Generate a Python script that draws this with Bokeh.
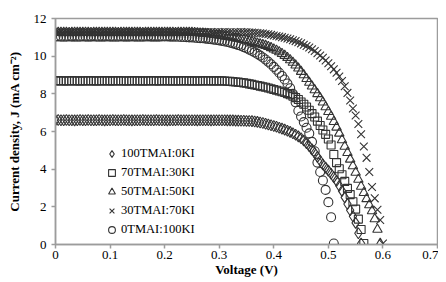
from bokeh.plotting import figure
from bokeh.models import Range1d, FixedTicker, Legend, LegendItem
from bokeh.embed import file_html
from bokeh.resources import INLINE

# Voltage sweep (V)
voltage = [
    0.000, 0.005, 0.010, 0.015, 0.020, 0.025, 0.030, 0.035, 0.040, 0.045,
    0.050, 0.055, 0.060, 0.065, 0.070, 0.075, 0.080, 0.085, 0.090, 0.095,
    0.100, 0.105, 0.110, 0.115, 0.120, 0.125, 0.130, 0.135, 0.140, 0.145,
    0.150, 0.155, 0.160, 0.165, 0.170, 0.175, 0.180, 0.185, 0.190, 0.195,
    0.200, 0.205, 0.210, 0.215, 0.220, 0.225, 0.230, 0.235, 0.240, 0.245,
    0.250, 0.255, 0.260, 0.265, 0.270, 0.275, 0.280, 0.285, 0.290, 0.295,
    0.300, 0.305, 0.310, 0.315, 0.320, 0.325, 0.330, 0.335, 0.340, 0.345,
    0.350, 0.355, 0.360, 0.365, 0.370, 0.375, 0.380, 0.385, 0.390, 0.395,
    0.400, 0.405, 0.410, 0.415, 0.420, 0.425, 0.430, 0.435, 0.440, 0.445,
    0.450, 0.455, 0.460, 0.465, 0.470, 0.475, 0.480, 0.485, 0.490, 0.495,
    0.500, 0.505, 0.510, 0.515, 0.520, 0.525, 0.530, 0.535, 0.540, 0.545,
    0.550, 0.555, 0.560, 0.565, 0.570, 0.575, 0.580, 0.585, 0.590, 0.595,
    0.600,
]

# Current density (mA cm-2) for each composition
j_100tmai_0ki = [
    6.60, 6.61, 6.60, 6.60, 6.61, 6.60, 6.60, 6.59, 6.60, 6.61,
    6.60, 6.60, 6.61, 6.60, 6.60, 6.60, 6.61, 6.60, 6.59, 6.60,
    6.60, 6.61, 6.60, 6.60, 6.60, 6.61, 6.60, 6.60, 6.59, 6.60,
    6.60, 6.60, 6.61, 6.60, 6.60, 6.60, 6.60, 6.61, 6.60, 6.60,
    6.60, 6.59, 6.60, 6.60, 6.60, 6.61, 6.60, 6.60, 6.60, 6.60,
    6.60, 6.60, 6.59, 6.60, 6.60, 6.60, 6.60, 6.59, 6.60, 6.60,
    6.60, 6.60, 6.60, 6.59, 6.59, 6.59, 6.58, 6.58, 6.57, 6.57,
    6.56, 6.56, 6.55, 6.53, 6.51, 6.48, 6.45, 6.41, 6.37, 6.33,
    6.29, 6.25, 6.20, 6.15, 6.10, 6.04, 5.98, 5.91, 5.83, 5.74,
    5.64, 5.52, 5.38, 5.22, 5.05, 4.86, 4.65, 4.45, 4.25, 4.08,
    3.92, 3.76, 3.58, 3.38, 3.12, 2.85, 2.50, 2.15, 1.82, 1.50,
    1.15, 0.60, 0.05,
]

j_70tmai_30ki = [
    8.69, 8.70, 8.69, 8.68, 8.69, 8.69, 8.70, 8.69, 8.69, 8.68,
    8.69, 8.69, 8.70, 8.69, 8.69, 8.69, 8.68, 8.69, 8.70, 8.69,
    8.69, 8.69, 8.69, 8.70, 8.69, 8.68, 8.69, 8.69, 8.69, 8.70,
    8.69, 8.69, 8.68, 8.69, 8.69, 8.70, 8.69, 8.69, 8.69, 8.69,
    8.70, 8.69, 8.69, 8.68, 8.69, 8.69, 8.69, 8.70, 8.69, 8.69,
    8.69, 8.69, 8.68, 8.69, 8.69, 8.70, 8.69, 8.69, 8.69, 8.69,
    8.69, 8.69, 8.68, 8.67, 8.66, 8.65, 8.63, 8.62, 8.60, 8.58,
    8.56, 8.53, 8.50, 8.47, 8.44, 8.41, 8.38, 8.35, 8.31, 8.27,
    8.23, 8.19, 8.15, 8.11, 8.07, 8.01, 7.95, 7.88, 7.80, 7.70,
    7.57, 7.45, 7.30, 7.13, 6.95, 6.77, 6.55, 6.32, 6.08, 5.85,
    5.60, 5.28, 4.78, 4.35, 4.02, 3.70, 3.35, 2.98, 2.65, 2.27,
    1.88, 1.35, 0.80, 0.05,
]

j_50tmai_50ki = [
    11.24, 11.25, 11.26, 11.25, 11.25, 11.24, 11.25, 11.26, 11.25, 11.25,
    11.25, 11.26, 11.25, 11.24, 11.25, 11.25, 11.26, 11.25, 11.25, 11.25,
    11.26, 11.25, 11.25, 11.24, 11.25, 11.26, 11.25, 11.25, 11.25, 11.26,
    11.25, 11.25, 11.24, 11.25, 11.25, 11.26, 11.25, 11.25, 11.25, 11.25,
    11.26, 11.25, 11.25, 11.25, 11.24, 11.25, 11.25, 11.26, 11.25, 11.25,
    11.25, 11.24, 11.23, 11.22, 11.21, 11.20, 11.18, 11.16, 11.14, 11.12,
    11.10, 11.08, 11.05, 11.03, 11.01, 10.99, 10.96, 10.93, 10.90, 10.87,
    10.84, 10.80, 10.76, 10.72, 10.68, 10.64, 10.60, 10.56, 10.50, 10.44,
    10.37, 10.30, 10.22, 10.13, 10.03, 9.92, 9.80, 9.66, 9.52, 9.36,
    9.18, 9.00, 8.80, 8.60, 8.40, 8.20, 8.00, 7.78, 7.55, 7.30,
    7.05, 6.80, 6.52, 6.22, 5.90, 5.55, 5.20, 4.87, 4.52, 4.17,
    3.82, 3.45, 3.08, 2.75, 2.42, 2.10, 1.78, 1.35, 0.80, 0.05,
]

j_30tmai_70ki = [
    11.26, 11.27, 11.28, 11.27, 11.27, 11.26, 11.27, 11.28, 11.27, 11.27,
    11.27, 11.28, 11.27, 11.26, 11.27, 11.27, 11.28, 11.27, 11.27, 11.27,
    11.28, 11.27, 11.27, 11.26, 11.27, 11.28, 11.27, 11.27, 11.27, 11.28,
    11.27, 11.27, 11.26, 11.27, 11.27, 11.28, 11.27, 11.27, 11.27, 11.27,
    11.28, 11.27, 11.27, 11.27, 11.26, 11.27, 11.27, 11.28, 11.27, 11.27,
    11.27, 11.28, 11.27, 11.27, 11.26, 11.27, 11.27, 11.28, 11.27, 11.27,
    11.27, 11.27, 11.28, 11.27, 11.27, 11.26, 11.27, 11.27, 11.28, 11.27,
    11.27, 11.26, 11.25, 11.24, 11.23, 11.22, 11.20, 11.18, 11.16, 11.13,
    11.10, 11.07, 11.04, 11.01, 10.98, 10.94, 10.90, 10.85, 10.80, 10.74,
    10.68, 10.61, 10.54, 10.46, 10.37, 10.27, 10.16, 10.04, 9.91, 9.77,
    9.62, 9.46, 9.30, 9.12, 8.92, 8.68, 8.40, 8.05, 7.65, 7.22,
    6.85, 6.40, 5.85, 5.20, 4.60, 3.85, 3.05, 2.45, 1.85, 1.30,
    0.05,
]

j_0tmai_100ki = [
    11.04, 11.05, 11.04, 11.03, 11.04, 11.05, 11.04, 11.04, 11.03, 11.04,
    11.05, 11.04, 11.04, 11.04, 11.05, 11.04, 11.03, 11.04, 11.04, 11.05,
    11.04, 11.04, 11.03, 11.04, 11.05, 11.04, 11.04, 11.04, 11.05, 11.04,
    11.04, 11.03, 11.04, 11.04, 11.05, 11.04, 11.04, 11.04, 11.04, 11.05,
    11.05, 11.05, 11.04, 11.04, 11.03, 11.03, 11.02, 11.02, 11.01, 11.00,
    10.99, 10.98, 10.97, 10.96, 10.95, 10.93, 10.92, 10.90, 10.88, 10.86,
    10.84, 10.81, 10.78, 10.75, 10.72, 10.68, 10.64, 10.59, 10.54, 10.48,
    10.42, 10.35, 10.28, 10.20, 10.12, 10.03, 9.93, 9.82, 9.70, 9.57,
    9.43, 9.28, 9.12, 8.95, 8.76, 8.55, 8.30, 8.00, 7.55, 7.10,
    6.80, 6.50, 6.20, 5.90, 5.45, 4.95, 4.35, 3.85, 3.40, 2.90,
    2.25, 1.45, 0.05,
]

series_labels = ["100TMAI:0KI", "70TMAI:30KI", "50TMAI:50KI", "30TMAI:70KI", "0TMAI:100KI"]
x_ticks = [0, 0.1, 0.2, 0.3, 0.4, 0.5, 0.6, 0.7]
y_ticks = [0, 2, 4, 6, 8, 10, 12]
x_title = "Voltage (V)"
y_title = "Current density, J (mA cm\u207b\u00b2)"

SERIF = "Liberation Serif"
MARK = "#333333"
AXIS = "#9c9c9c"

p = figure(width=438, height=279, output_backend="svg", toolbar_location=None,
           x_range=Range1d(0, 0.7), y_range=Range1d(0, 12),
           min_border_left=55, min_border_top=18, min_border_right=1,
           min_border_bottom=0)
p.background_fill_color = "white"
p.border_fill_color = "white"
p.outline_line_color = AXIS
p.outline_line_width = 1.5
p.xgrid.visible = False
p.ygrid.visible = False

styles = [
    dict(marker="diamond", size=11),
    dict(marker="square", size=8),
    dict(marker="triangle", size=9.5),
    dict(marker="x", size=11),
    dict(marker="circle", size=9),
]
currents = [j_100tmai_0ki, j_70tmai_30ki, j_50tmai_50ki, j_30tmai_70ki, j_0tmai_100ki]

renderers = []
for cur, st in zip(currents, styles):
    r = p.scatter(voltage[:len(cur)], cur, fill_color=None, line_color=MARK,
                  line_width=1.1, **st)
    renderers.append(r)

for ax in (p.xaxis[0], p.yaxis[0]):
    ax.axis_line_color = AXIS
    ax.axis_line_width = 1.5
    ax.major_tick_line_color = AXIS
    ax.major_tick_line_width = 1.5
    ax.major_tick_out = 4
    ax.major_tick_in = 0
    ax.minor_tick_line_color = None
    ax.major_label_text_font = SERIF
    ax.major_label_text_font_size = "13px"
    ax.major_label_text_color = "black"
    ax.axis_label_text_font = SERIF
    ax.axis_label_text_font_size = "13px"
    ax.axis_label_text_font_style = "bold"
    ax.axis_label_text_color = "black"

p.xaxis.ticker = FixedTicker(ticks=x_ticks)
p.yaxis.ticker = FixedTicker(ticks=y_ticks)
p.xaxis.major_label_overrides = {0: "0", 0.1: "0.1", 0.2: "0.2", 0.3: "0.3",
                                 0.4: "0.4", 0.5: "0.5", 0.6: "0.6", 0.7: "0.7"}
p.xaxis.major_label_standoff = 2
p.xaxis.axis_label_standoff = 0
p.yaxis.major_label_standoff = 5
p.yaxis.axis_label_standoff = 9
p.xaxis.axis_label = x_title
p.yaxis.axis_label = y_title

legend = Legend(
    items=[LegendItem(label=lab, renderers=[r]) for lab, r in zip(series_labels, renderers)],
    location=(48, 5), padding=0, margin=0, spacing=0,
    glyph_width=17, glyph_height=19, label_height=19, label_standoff=1,
    background_fill_alpha=0, border_line_alpha=0,
    label_text_font=SERIF, label_text_font_size="12.5px", label_text_color="black",
)
p.add_layout(legend)

open("out.html", "w").write(file_html(p, INLINE))
